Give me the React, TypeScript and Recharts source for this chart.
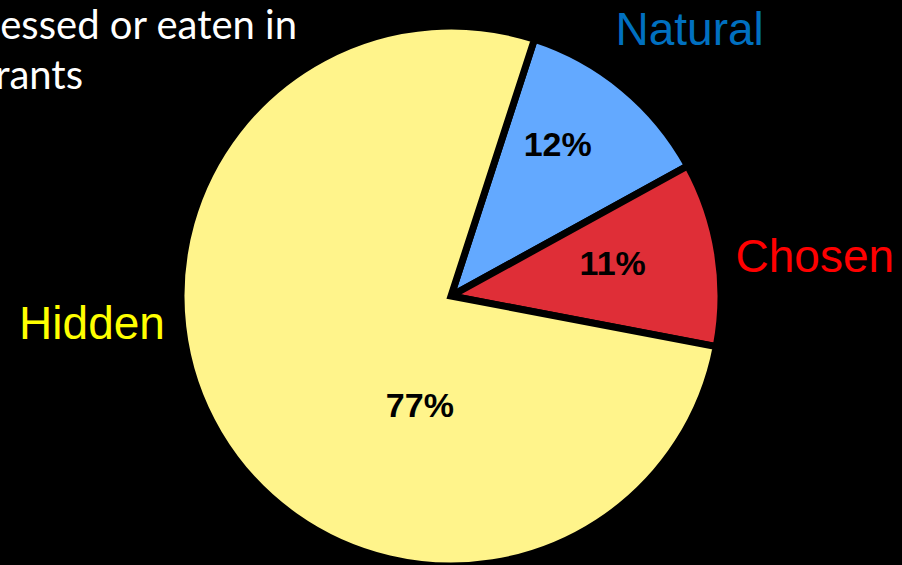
import React from 'react';
import { PieChart, Pie, Cell } from 'recharts';

// share of each kind, clockwise from the top
const categories = ['Natural', 'Chosen', 'Hidden'];
const shares = [12, 11, 77];
const sliceColors = ['#63A9FF', '#DF2E37', '#FFF48B'];
const nameColors = ['#0070C0', '#FF0000', '#FFFF00'];
const captionLines = ['processed or eaten in', 'restaurants'];

const chartData = categories.map((name, i) => ({ name, value: shares[i] }));

// label placement: clock angle (deg from 12 o'clock) and distance from the centre
const pctPlacement = [
  { angle: 35, dist: 186 },
  { angle: 78.5, dist: 165 },
  { angle: 196, dist: 113 },
];
const namePlacement = [
  { angle: 41.8, dist: 358 },
  { angle: 83.7, dist: 366 },
  { angle: 265.7, dist: 360 },
];

const polar = (cx: number, cy: number, angle: number, dist: number) => {
  const r = (angle * Math.PI) / 180;
  return { x: cx + dist * Math.sin(r), y: cy - dist * Math.cos(r) };
};

const renderLabel = (props: any) => {
  const { cx, cy, index, value, name } = props;
  const p = polar(cx, cy, pctPlacement[index].angle, pctPlacement[index].dist);
  const n = polar(cx, cy, namePlacement[index].angle, namePlacement[index].dist);
  return (
    <g key={`lbl-${index}`}>
      <text
        x={p.x}
        y={p.y}
        textAnchor="middle"
        dominantBaseline="central"
        fill="#000"
        fontFamily="'Liberation Sans', Arial, sans-serif"
        fontWeight="bold"
        fontSize={34}
      >
        {`${value}%`}
      </text>
      <text
        x={n.x}
        y={n.y}
        textAnchor="middle"
        dominantBaseline="central"
        fill={nameColors[index]}
        fontFamily="'Liberation Sans', Arial, sans-serif"
        fontSize={46}
      >
        {name}
      </text>
    </g>
  );
};

const App: React.FC = () => {
  return (
    <div style={{ position: 'fixed', left: 0, top: 0, width: 902, height: 565, background: '#000', overflow: 'hidden' }}>
      <PieChart width={902} height={565} margin={{ top: 0, right: 0, bottom: 0, left: 0 }}>
        <Pie
          data={chartData}
          dataKey="value"
          nameKey="name"
          cx={451}
          cy={296}
          outerRadius={270}
          startAngle={72}
          endAngle={-288}
          stroke="#000"
          strokeWidth={7}
          label={renderLabel}
          labelLine={false}
          isAnimationActive={false}
        >
          {chartData.map((entry, i) => (
            <Cell key={`cell-${i}`} fill={sliceColors[i]} />
          ))}
        </Pie>
      </PieChart>
      <svg width={902} height={565} style={{ position: 'absolute', left: 0, top: 0, pointerEvents: 'none' }}>
        <text x={297} y={39} textAnchor="end" fill="#fff" fontFamily="Lato, 'Open Sans', sans-serif" fontSize={40}>
          {captionLines[0]}
        </text>
        <text x={83} y={89} textAnchor="end" fill="#fff" fontFamily="Lato, 'Open Sans', sans-serif" fontSize={40}>
          {captionLines[1]}
        </text>
      </svg>
    </div>
  );
};

export default App;
